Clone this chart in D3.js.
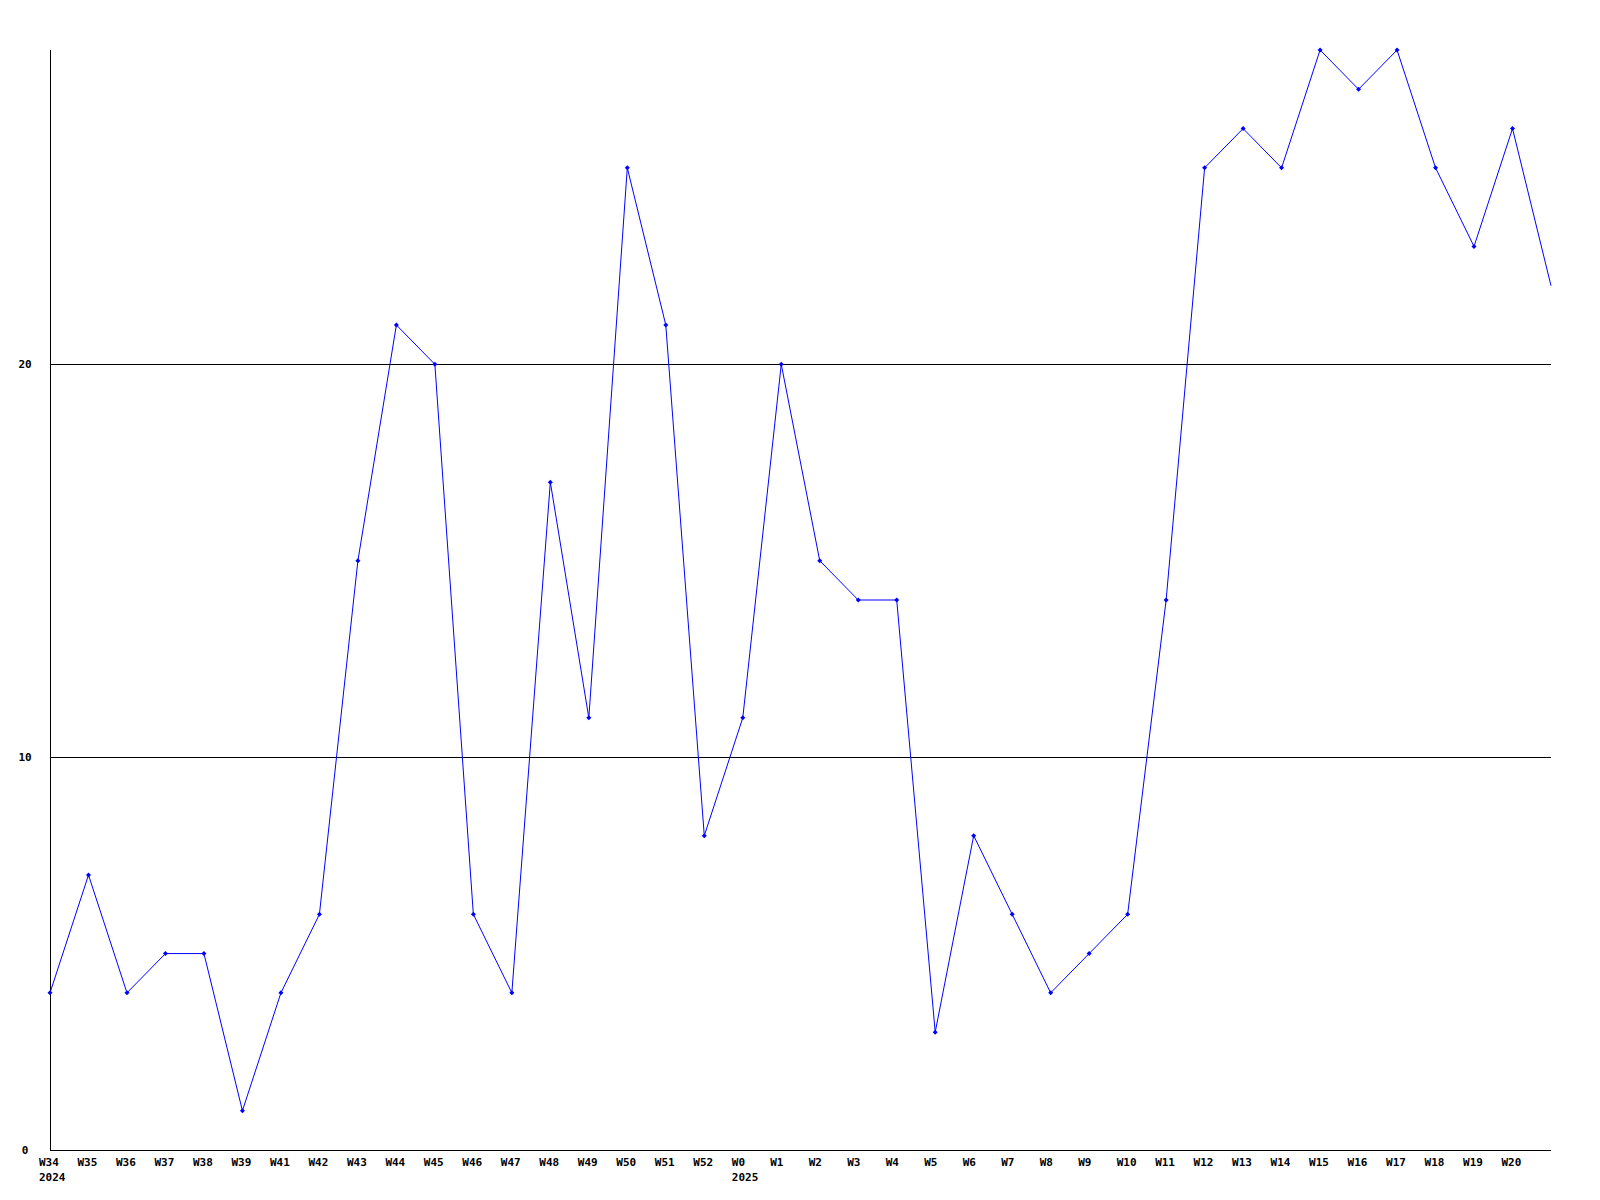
<!DOCTYPE html>
<html><head><meta charset="utf-8">
<script src="https://cdn.jsdelivr.net/npm/d3@7"></script>
<style>body{margin:0;background:#fff}svg{display:block}</style>
</head><body>
<script>
const weeks = ["W34","W35","W36","W37","W38","W39","W41","W42","W43","W44","W45","W46","W47","W48","W49","W50","W51","W52","W0","W1","W2","W3","W4","W5","W6","W7","W8","W9","W10","W11","W12","W13","W14","W15","W16","W17","W18","W19","W20",""];
const yearLabels = {"W34":"2024","W0":"2025"};
const values = [4,7,4,5,5,1,4,6,15,21,20,6,4,17,11,25,21,8,11,20,15,14,14,3,8,6,4,5,6,14,25,26,25,28,27,28,25,23,26,22];
const yTicks = [0,10,20];

(function(){
const W=1600,H=1200, mL=50, mR=1551, mT=50, mB=1150;
const svg=d3.select("body").append("svg").attr("width",W).attr("height",H);
const x=d3.scalePoint().domain(d3.range(weeks.length)).range([mL,mR]);
const y=d3.scaleLinear().domain([0,28]).range([mB,mT]);
const font="'DejaVu Sans Mono', monospace";

svg.selectAll("line.grid").data(yTicks.filter(d=>d>0)).enter().append("line")
  .attr("x1",mL).attr("x2",mR).attr("y1",d=>Math.round(y(d))+0.5).attr("y2",d=>Math.round(y(d))+0.5)
  .attr("stroke","#000").attr("stroke-width",1).attr("shape-rendering","crispEdges");
svg.append("line").attr("x1",mL+0.5).attr("x2",mL+0.5).attr("y1",mT).attr("y2",mB)
  .attr("stroke","#000").attr("shape-rendering","crispEdges");
svg.append("line").attr("x1",mL).attr("x2",mR).attr("y1",mB+0.5).attr("y2",mB+0.5)
  .attr("stroke","#000").attr("shape-rendering","crispEdges");
svg.selectAll("text.y").data(yTicks).enter().append("text")
  .attr("x",25).attr("y",d=>y(d)).attr("dy","0.35em").attr("text-anchor","middle")
  .attr("font-family",font).attr("font-weight","bold").attr("font-size",11).text(d=>d);
weeks.forEach((w,i)=>{
  if(!w) return;
  svg.append("text").attr("x",x(i)-11).attr("y",1166).attr("font-family",font)
    .attr("font-weight","bold").attr("font-size",11).text(w);
  if(yearLabels[w]) svg.append("text").attr("x",x(i)-11).attr("y",1181).attr("font-family",font)
    .attr("font-weight","bold").attr("font-size",11).text(yearLabels[w]);
});
const line=d3.line().x((d,i)=>x(i)).y(d=>y(d));
svg.append("path").datum(values).attr("d",line).attr("fill","none").attr("stroke","#0000ff").attr("stroke-width",1);
svg.selectAll("path.m").data(values.slice(0,-1)).enter().append("path")
  .attr("d",(d,i)=>{const cx=x(i),cy=y(d);return `M${cx-2.5},${cy}L${cx},${cy-2.5}L${cx+2.5},${cy}L${cx},${cy+2.5}Z`;})
  .attr("fill","#0000ff");
})();
</script>
</body></html>
